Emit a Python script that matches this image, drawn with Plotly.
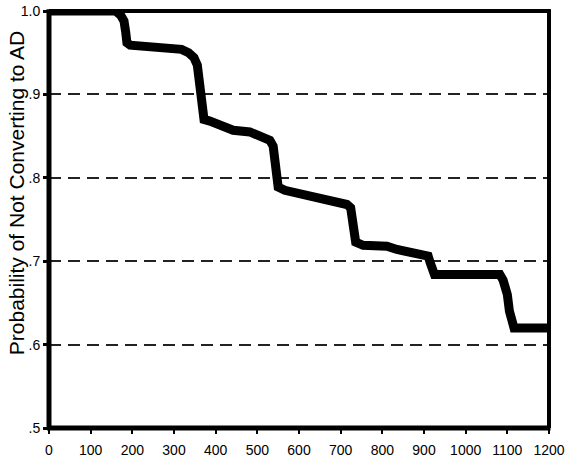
import plotly.graph_objects as go

# Survival curve: days vs probability of not converting to AD
days = [0, 160, 172, 180, 184, 187, 195, 220, 260, 300, 318, 335, 348, 356, 361, 364, 367, 372, 386,
        418, 442, 482, 514, 530, 538, 543, 546, 550, 566, 610, 650, 691, 715, 724, 729, 732, 736, 754,
        811, 835, 898, 910, 915, 919, 925, 1000, 1082, 1090, 1100, 1105, 1110, 1116, 1200]
prob = [1.0, 1.0, 0.995, 0.988, 0.975, 0.962, 0.959, 0.958, 0.957, 0.956, 0.954, 0.950, 0.944, 0.935,
        0.915, 0.89, 0.874, 0.870, 0.868, 0.863, 0.857, 0.855, 0.849, 0.845, 0.838, 0.82, 0.80, 0.789,
        0.785, 0.780, 0.776, 0.772, 0.768, 0.764, 0.75, 0.735, 0.723, 0.719, 0.718, 0.714, 0.709,
        0.706, 0.698, 0.688, 0.684, 0.684, 0.684, 0.677, 0.66, 0.64, 0.624, 0.620, 0.620]

y_ticks = [0.5, 0.6, 0.7, 0.8, 0.9, 1.0]
y_tick_labels = [".5", ".6", ".7", ".8", ".9", "1.0"]
x_ticks = [0, 100, 200, 300, 400, 500, 600, 700, 800, 900, 1000, 1100, 1200]

fig = go.Figure()
fig.add_trace(go.Scatter(x=days, y=prob, mode="lines",
                         line=dict(color="black", width=9), showlegend=False))

font = dict(family="Liberation Sans, Arial, sans-serif", size=14, color="black")

frame = [
    dict(type="line", xref="paper", yref="paper", x0=0, x1=0, y0=-0.005, y1=1.004,
         line=dict(color="black", width=5), layer="above"),
    dict(type="line", xref="paper", yref="paper", x0=-0.004, x1=1.003, y0=0, y1=0,
         line=dict(color="black", width=5), layer="above"),
    dict(type="line", xref="paper", yref="paper", x0=0, x1=1.003, y0=1, y1=1,
         line=dict(color="black", width=4), layer="above"),
    dict(type="line", xref="paper", yref="paper", x0=1, x1=1, y0=0, y1=1.004,
         line=dict(color="black", width=4), layer="above"),
]

fig.update_layout(
    width=569, height=459,
    margin=dict(l=49, r=20, t=11, b=31, autoexpand=False),
    paper_bgcolor="white", plot_bgcolor="white",
    font=font,
    shapes=frame,
    xaxis=dict(range=[0, 1200], tickvals=x_ticks, ticktext=[str(v) for v in x_ticks],
               showgrid=False, zeroline=False, showline=False,
               ticks="outside", ticklen=5, tickwidth=2, tickcolor="black",
               tickfont=font, automargin=False, ticklabeloverflow="allow",
               ticklabelstandoff=4),
    yaxis=dict(range=[0.5, 1.0], tickvals=y_ticks, ticktext=y_tick_labels,
               showgrid=True, gridcolor="#222", gridwidth=1.5, griddash="12px,7px",
               zeroline=False, showline=False,
               ticks="outside", ticklen=5, tickwidth=3, tickcolor="black",
               tickfont=font, automargin=False, ticklabeloverflow="allow"),
    annotations=[dict(text="Probability of Not Converting to AD", textangle=-90,
                      xref="paper", yref="paper", x=-0.066, y=0.563,
                      xanchor="center", yanchor="middle", showarrow=False,
                      font=dict(family="Liberation Sans, Arial, sans-serif", size=21, color="black"))],
)

fig.write_html("out.html", config={"displayModeBar": False},
               post_script="document.body.style.margin='0';document.body.style.overflow='hidden';")
